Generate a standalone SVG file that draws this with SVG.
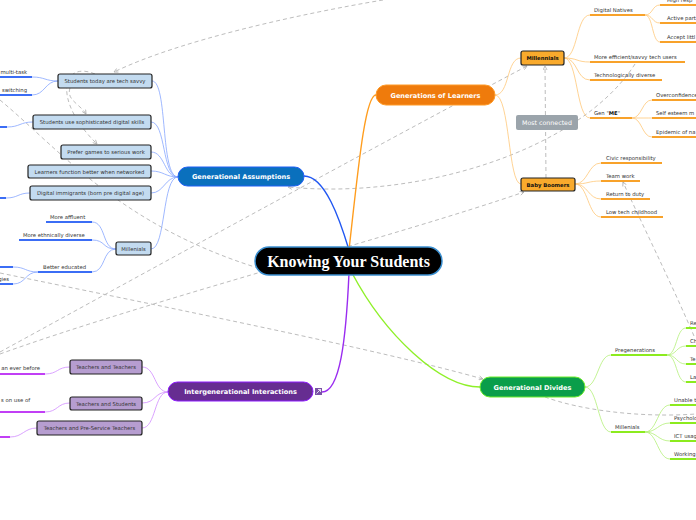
<svg xmlns="http://www.w3.org/2000/svg" width="696" height="520" viewBox="0 0 696 520">
<style>
.t{font-family:"DejaVu Sans",Verdana,sans-serif;font-size:5.3px;fill:#333}
.tb{font-family:"DejaVu Sans",Verdana,sans-serif;font-size:5.3px;fill:#111;font-weight:bold}
.main{font-family:"DejaVu Sans",Verdana,sans-serif;font-size:6.6px;fill:#fff;font-weight:bold}
.c{text-anchor:middle}
.e{text-anchor:end}
.bl{fill:none;stroke:#86a6ff;stroke-width:0.8}
.bu{fill:none;stroke:#3b6df5;stroke-width:1.8}
.or{fill:none;stroke:#ffc878;stroke-width:0.8}
.ou{fill:none;stroke:#f8a22a;stroke-width:1.8}
.pl{fill:none;stroke:#d18cff;stroke-width:0.8}
.pu{fill:none;stroke:#c13ff5;stroke-width:1.8}
.gl{fill:none;stroke:#b4f07a;stroke-width:0.8}
.gu{fill:none;stroke:#8ceb1e;stroke-width:1.8}
.rel{fill:none;stroke:#bdbdbd;stroke-width:1;stroke-dasharray:4 3;marker-end:url(#ar)}
.relna{fill:none;stroke:#bdbdbd;stroke-width:1;stroke-dasharray:4 3}
.bbox{fill:#c3dbf0;stroke:#222;stroke-width:1.2}
.obox{fill:#f9aa2c;stroke:#222;stroke-width:1.2}
.pbox{fill:#b69dd0;stroke:#222;stroke-width:1.2}
</style>
<defs>
<marker id="ar" viewBox="0 0 10 10" refX="9" refY="5" markerWidth="5" markerHeight="5" orient="auto-start-reverse" markerUnits="userSpaceOnUse">
<path d="M1 1 L9 5 L1 9" fill="none" stroke="#aaa" stroke-width="1.5"/>
</marker>
</defs>
<rect width="696" height="520" fill="#fff"/>

<g id="relations">
<path class="rel" d="M383 0 C300 14 180 40 114 72"/>
<path class="rel" d="M95 74 C62 60 52 100 97 144"/>
<path class="rel" d="M70 88 C66 100 80 104 86 114"/>
<path class="rel" d="M0 352 C150 270 350 160 527 66"/>
<path class="rel" d="M0 354 C150 300 400 235 524 192"/>
<path class="rel" d="M635 64 C580 150 420 200 288 187"/>
<path class="rel" d="M694 336 C670 280 640 220 623 182"/>
<path class="rel" d="M546 178 L545 66"/>
<path class="relna" d="M545 397 C580 410 640 418 696 414"/>
<path class="rel" d="M0 273 C180 310 380 350 483 379"/>
<path class="relna" d="M0 100 C60 150 120 225 258 268"/>
</g>

<g id="connectors">
<path d="M304 176 C325 176 340 220 349 250" fill="none" stroke="#2157f2" stroke-width="1.4"/>
<path d="M349 250 C358 170 365 95 376 95" fill="none" stroke="#ff9d1e" stroke-width="1.4"/>
<path d="M349 273 C346 340 340 392 322 392" fill="none" stroke="#9a2cf0" stroke-width="1.4"/>
<path d="M352 273 C385 335 440 387 480 387" fill="none" stroke="#8ff029" stroke-width="1.4"/>

<path class="bl" d="M178 177 C160 177 168 81 152 81"/>
<path class="bl" d="M178 177 C162 177 166 122 151 122"/>
<path class="bl" d="M178 177 C164 177 165 152 151 152"/>
<path class="bl" d="M178 177 C165 177 164 171 151 171"/>
<path class="bl" d="M178 177 C165 177 164 193 151 193"/>
<path class="bl" d="M178 177 C162 177 166 249 151 249"/>
<path class="bl" d="M58 81 C45 81 45 77 32 77"/>
<path class="bl" d="M58 81 C45 81 45 95 32 95"/>
<path class="bl" d="M33 122 C20 122 20 127 7 127"/>
<path class="bl" d="M30 193 C18 193 18 198 6 198"/>
<path class="bl" d="M116 249 C102 249 106 222 92 222"/>
<path class="bl" d="M116 249 C102 249 106 240 92 240"/>
<path class="bl" d="M116 249 C102 249 106 272 92 272"/>
<path class="bl" d="M38 272 C25 272 26 267 13 267"/>
<path class="bl" d="M38 272 C25 272 26 284 13 284"/>
<path class="bu" d="M0 77 H32 M0 95 H32 M0 127 H7 M0 198 H6 M46 222 H92 M19 240 H92 M38 272 H92 M0 267 H13 M0 284 H13"/>

<path class="or" d="M495 95 C510 95 506 58 521 58"/>
<path class="or" d="M495 95 C510 95 508 184 521 184"/>
<path class="or" d="M564 58 C578 58 576 15 590 15"/>
<path class="or" d="M564 58 C578 58 576 62 590 62"/>
<path class="or" d="M564 58 C578 58 576 80 590 80"/>
<path class="or" d="M564 58 C578 58 576 118 590 118"/>
<path class="or" d="M645 15 C653 15 652 5 660 5"/>
<path class="or" d="M645 15 C653 15 652 23 660 23"/>
<path class="or" d="M645 15 C653 15 652 42 660 42"/>
<path class="or" d="M632 118 C642 118 642 100 652 100"/>
<path class="or" d="M632 118 C642 118 642 118 652 118"/>
<path class="or" d="M632 118 C642 118 642 137 652 137"/>
<path class="or" d="M575 184 C588 184 588 163 601 163"/>
<path class="or" d="M575 184 C588 184 588 181 601 181"/>
<path class="or" d="M575 184 C588 184 588 199 601 199"/>
<path class="or" d="M575 184 C588 184 588 217 601 217"/>
<path class="ou" d="M590 15 H645 M660 5 H696 M660 23 H696 M660 42 H696 M590 62 H685 M590 80 H662 M590 118 H632 M652 100 H696 M652 118 H696 M652 137 H696 M601 163 H662 M601 181 H640 M601 199 H650 M601 217 H663"/>

<path class="gl" d="M585 387 C598 387 598 355 611 355"/>
<path class="gl" d="M585 387 C598 387 598 432 611 432"/>
<path class="gl" d="M667 355 C677 355 676 328 686 328"/>
<path class="gl" d="M667 355 C677 355 676 346 686 346"/>
<path class="gl" d="M667 355 C677 355 676 364 686 364"/>
<path class="gl" d="M667 355 C677 355 676 382 686 382"/>
<path class="gl" d="M645 432 C657 432 658 405 670 405"/>
<path class="gl" d="M645 432 C657 432 658 423 670 423"/>
<path class="gl" d="M645 432 C657 432 658 441 670 441"/>
<path class="gl" d="M645 432 C657 432 658 459 670 459"/>
<path class="gu" d="M611 355 H667 M686 328 H696 M686 346 H696 M686 364 H696 M686 382 H696 M611 432 H645 M670 405 H696 M670 423 H696 M670 441 H696 M670 459 H696"/>

<path class="pl" d="M168 392 C154 392 156 367 142 367"/>
<path class="pl" d="M168 392 C154 392 156 403 142 403"/>
<path class="pl" d="M168 392 C154 392 156 428 142 428"/>
<path class="pl" d="M70 367 C57 367 58 374 45 374"/>
<path class="pl" d="M70 403 C57 403 58 412 45 412"/>
<path class="pl" d="M37 428 C24 428 23 437 10 437"/>
<path class="pu" d="M0 374 H45 M0 412 H45 M0 437 H10"/>
</g>

<g id="central">
<rect x="255" y="247" width="187" height="28" rx="14" fill="#000" stroke="#3b8fd0" stroke-width="1.5"/>
<text x="348.5" y="266.5" class="c" style="font-family:'Liberation Serif','Times New Roman',serif;font-size:16px;font-weight:bold;fill:#fff">Knowing Your Students</text>
</g>

<g id="gen-assumptions">
<rect x="178" y="167" width="126" height="19" rx="9.5" fill="#0a70bd" stroke="#1f5ff5" stroke-width="1"/>
<text x="241" y="179.3" class="main c">Generational Assumptions</text>
</g>
<g id="gen-learners">
<rect x="376" y="85" width="119" height="20" rx="10" fill="#ef7b0c" stroke="#ff9a26" stroke-width="1"/>
<text x="435.5" y="97.5" class="main c">Generations of Learners</text>
</g>
<g id="intergen">
<rect x="168" y="382" width="145" height="19" rx="9.5" fill="#662d91" stroke="#8f1cff" stroke-width="1"/>
<text x="240.5" y="394.3" class="main c">Intergenerational Interactions</text>
<rect x="315" y="388" width="7" height="7" fill="#7a52a6"/>
<path d="M316.5 393.5 L320.5 389.5 M318 389.5 H320.5 V392" stroke="#fff" stroke-width="0.8" fill="none"/>
</g>
<g id="gen-divides">
<rect x="480" y="377" width="105" height="20" rx="10" fill="#0a9e4a" stroke="#6ced2a" stroke-width="1"/>
<text x="532.5" y="389.5" class="main c">Generational Divides</text>
</g>

<g id="n-techsavvy"><rect class="bbox" x="58" y="74" width="94" height="14" rx="2"/><text x="105" y="83" class="t c">Students today are tech savvy</text></g>
<g id="n-sophisticated"><rect class="bbox" x="33" y="115" width="118" height="14" rx="2"/><text x="92" y="124" class="t c">Students use sophisticated digital skills</text></g>
<g id="n-games"><rect class="bbox" x="61" y="145" width="90" height="14" rx="2"/><text x="106" y="154" class="t c">Prefer games to serious work</text></g>
<g id="n-networked"><rect class="bbox" x="28" y="165" width="123" height="13" rx="2"/><text x="89.5" y="173.5" class="t c">Learners function better when networked</text></g>
<g id="n-immigrants"><rect class="bbox" x="30" y="186" width="121" height="14" rx="2"/><text x="90.5" y="195" class="t c">Digital immigrants (born pre digital age)</text></g>
<g id="n-millenials-a"><rect class="bbox" x="116" y="242" width="35" height="13" rx="2"/><text x="133.5" y="250.5" class="t c">Millenials</text></g>

<g id="n-multitask"><text x="27" y="74" class="t e">multi-task</text></g>
<g id="n-switching"><text x="27" y="92" class="t e">switching</text></g>
<g id="n-affluent"><text x="50" y="219" class="t">More affluent</text></g>
<g id="n-diverse"><text x="23" y="237" class="t">More ethnically diverse</text></g>
<g id="n-educated"><text x="43" y="269" class="t">Better educated</text></g>
<g id="n-gies"><text x="9" y="281" class="t e">gies</text></g>

<g id="n-millennials"><rect class="obox" x="521" y="51" width="43" height="14" rx="2"/><text x="542.5" y="60" class="tb c">Millennials</text></g>
<g id="n-boomers"><rect class="obox" x="521" y="178" width="54" height="13" rx="2"/><text x="548" y="186.5" class="tb c">Baby Boomers</text></g>
<g id="most-connected"><rect x="516" y="115" width="62" height="15" rx="2" fill="#9ba4ab"/><text x="547" y="124.8" class="c" style="font-family:'DejaVu Sans',Verdana,sans-serif;font-size:6.3px;fill:#fff">Most connected</text></g>

<g id="n-natives"><text x="594" y="12" class="t">Digital Natives</text></g>
<g id="n-highresp"><text x="667" y="2" class="t">High resp</text></g>
<g id="n-active"><text x="667" y="20" class="t">Active part</text></g>
<g id="n-accept"><text x="667" y="39" class="t">Accept littl</text></g>
<g id="n-efficient"><text x="594" y="59" class="t">More efficient/savvy tech users</text></g>
<g id="n-techdiverse"><text x="594" y="77" class="t">Technologically diverse</text></g>
<g id="n-genme"><text x="594" y="115" class="t">Gen "<tspan font-weight="bold" fill="#111">ME</tspan>"</text></g>
<g id="n-overconf"><text x="656" y="97" class="t">Overconfidence</text></g>
<g id="n-selfesteem"><text x="656" y="115" class="t">Self esteem m</text></g>
<g id="n-epidemic"><text x="656" y="134" class="t">Epidemic of na</text></g>

<g id="n-civic"><text x="606" y="160" class="t">Civic responsibility</text></g>
<g id="n-teamwork"><text x="606" y="178" class="t">Team work</text></g>
<g id="n-duty"><text x="606" y="196" class="t">Return to duty</text></g>
<g id="n-lowtech"><text x="606" y="214" class="t">Low tech childhood</text></g>

<g id="n-pregen"><text x="615" y="352" class="t">Pregenerations</text></g>
<g id="n-re"><text x="690" y="325" class="t">Re</text></g>
<g id="n-ch"><text x="690" y="343" class="t">Ch</text></g>
<g id="n-te"><text x="690" y="361" class="t">Te</text></g>
<g id="n-la"><text x="690" y="379" class="t">La</text></g>
<g id="n-millenials-d"><text x="615" y="429" class="t">Millenials</text></g>
<g id="n-unable"><text x="674" y="402" class="t">Unable t</text></g>
<g id="n-psych"><text x="674" y="420" class="t">Psycholo</text></g>
<g id="n-ict"><text x="674" y="438" class="t">ICT usag</text></g>
<g id="n-working"><text x="674" y="456" class="t">Working</text></g>

<g id="n-tt"><rect class="pbox" x="70" y="360" width="72" height="14" rx="2"/><text x="106" y="369" class="t c">Teachers and Teachers</text></g>
<g id="n-ts"><rect class="pbox" x="70" y="397" width="72" height="13" rx="2"/><text x="106" y="405.5" class="t c">Teachers and Students</text></g>
<g id="n-tp"><rect class="pbox" x="37" y="421" width="105" height="14" rx="2"/><text x="89.5" y="430" class="t c">Teachers and Pre-Service Teachers</text></g>
<g id="n-everbefore"><text x="40" y="370" class="t e">an ever before</text></g>
<g id="n-useof"><text x="30" y="402" class="t e">s on use of</text></g>
</svg>
